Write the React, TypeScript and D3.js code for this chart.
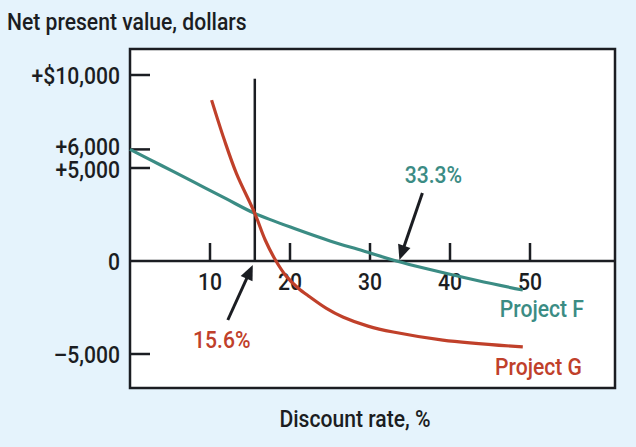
import React from "react";
import * as d3 from "d3";

const W = 636;
const H = 447;
const box = { left: 130, top: 49, right: 615, bottom: 388 };
const bg = "#e5f3fc";
const teal = "#3b8c84";
const red = "#c0402a";
const ink = "#1b1d22";
const font = "Roboto, 'Liberation Sans', sans-serif";
const squeeze = 0.88; // the original face is condensed

// discount rate (%) and net present value ($)
const projectFRates = [0, 4, 8, 12, 15.6, 20.9, 25, 29.1, 33.3, 37.1, 43.4, 49.1];
const projectFNpv = [6000, 5120, 4240, 3350, 2560, 1690, 1080, 550, 0, -420, -1050, -1560];
const projectGRates = [10.2, 11.8, 13.3, 15.6, 16.9, 18.25, 19.5, 21, 22.5, 24.5, 26.6, 29.75, 32.9, 39.1, 49.1];
const projectGNpv = [8650, 6500, 4710, 2560, 1130, 0, -800, -1450, -1935, -2530, -3010, -3500, -3820, -4250, -4620];

const xTicks = [10, 20, 30, 40, 50];
const yTicks = [10000, 6000, 5000, 0, -5000];
const yTickLabels = ["+$10,000", "+6,000", "+5,000", "0", "\u20135,000"];
const irrF = 33.3;
const crossover = 15.6;

const x = d3.scaleLinear().domain([0, 50]).range([box.left, box.left + 400]);
const y = d3.scaleLinear().domain([0, 10000]).range([261, 75]);

const line = d3
  .line<[number, number]>()
  .x((d) => x(d[0]))
  .y((d) => y(d[1]))
  .curve(d3.curveCatmullRom.alpha(0.5));

const zip = (a: number[], b: number[]): [number, number][] => a.map((v, i) => [v, b[i]]);

const Txt = ({
  x,
  y,
  anchor = "start",
  fill = ink,
  children,
}: {
  x: number;
  y: number;
  anchor?: string;
  fill?: string;
  children: React.ReactNode;
}) => (
  <text
    transform={`translate(${x},${y}) scale(${squeeze},1)`}
    textAnchor={anchor}
    fontSize={24}
    fontWeight={500}
    fill={fill}
  >
    {children}
  </text>
);

const Arrow = ({ x1, y1, x2, y2 }: { x1: number; y1: number; x2: number; y2: number }) => {
  // shaft + filled head pointing at (x2, y2)
  const ang = Math.atan2(y2 - y1, x2 - x1);
  const len = 15;
  const half = 6.5;
  const bx = x2 - len * Math.cos(ang);
  const by = y2 - len * Math.sin(ang);
  const px = -Math.sin(ang) * half;
  const py = Math.cos(ang) * half;
  return (
    <g>
      <line x1={x1} y1={y1} x2={bx + 2 * Math.cos(ang)} y2={by + 2 * Math.sin(ang)} stroke={ink} strokeWidth={3} />
      <path d={`M${x2},${y2}L${bx + px},${by + py}L${bx - px},${by - py}Z`} fill={ink} />
    </g>
  );
};

export default function App() {
  const y0 = y(0);
  // the two close labels are pushed slightly apart, as in the original
  const nudge = (t: number) => (t === 6000 ? -3 : t === 5000 ? 1.5 : 0);
  return (
    <svg
      width={W}
      height={H}
      style={{ position: "absolute", left: 0, top: 0, fontFamily: font }}
    >
      <rect width={W} height={H} fill={bg} />
      <Txt x={7} y={30}>Net present value, dollars</Txt>
      <rect
        x={box.left}
        y={box.top}
        width={box.right - box.left}
        height={box.bottom - box.top}
        fill="#fff"
        stroke={ink}
        strokeWidth={2.5}
      />
      {yTicks.map((t, i) => (
        <g key={t}>
          {t !== 0 && (
            <line x1={box.left} x2={box.left + 20} y1={y(t)} y2={y(t)} stroke={ink} strokeWidth={2.5} />
          )}
          <Txt x={120} y={y(t) + 8.5 + nudge(t)} anchor="end">
            {yTickLabels[i]}
          </Txt>
        </g>
      ))}
      <line x1={box.left} x2={box.right} y1={y0} y2={y0} stroke={ink} strokeWidth={2.5} />
      {xTicks.map((t) => (
        <g key={t}>
          <line x1={x(t)} x2={x(t)} y1={y0} y2={y0 - 18} stroke={ink} strokeWidth={2.5} />
          <Txt x={x(t)} y={y0 + 29} anchor="middle">
            {t}
          </Txt>
        </g>
      ))}
      <line
        x1={x(crossover)}
        x2={x(crossover)}
        y1={y0}
        y2={y(9800)}
        stroke={ink}
        strokeWidth={2.5}
      />
      <path d={line(zip(projectFRates, projectFNpv)) || ""} fill="none" stroke={teal} strokeWidth={3.2} />
      <path d={line(zip(projectGRates, projectGNpv)) || ""} fill="none" stroke={red} strokeWidth={3.2} />

      <Arrow x1={x(irrF) + 26} y1={y0 - 68} x2={x(irrF) + 3} y2={y0 - 1} />
      <Txt x={x(irrF) + 37} y={183} anchor="middle" fill={teal}>
        33.3%
      </Txt>
      <Arrow x1={x(crossover) - 27} y1={y0 + 59} x2={x(crossover) - 2} y2={y0 + 4} />
      <Txt x={x(crossover) - 33} y={348} anchor="middle" fill={red}>
        15.6%
      </Txt>

      <Txt x={584} y={317} anchor="end" fill={teal}>
        Project F
      </Txt>
      <Txt x={582} y={375} anchor="end" fill={red}>
        Project G
      </Txt>
      <Txt x={355} y={427} anchor="middle">
        Discount rate, %
      </Txt>
    </svg>
  );
}
